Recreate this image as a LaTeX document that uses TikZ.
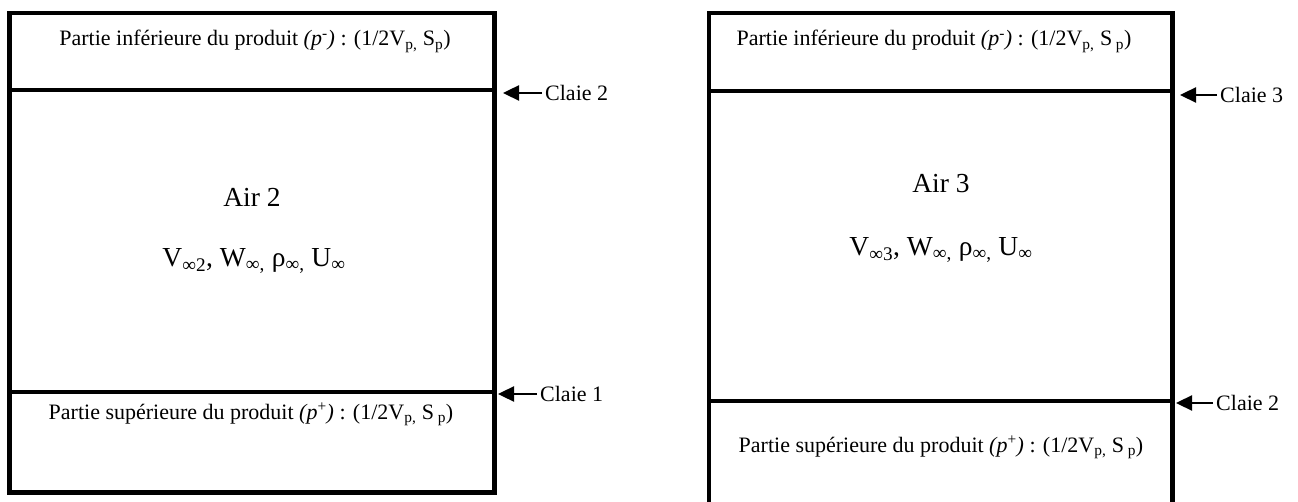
\documentclass[tikz,border=0pt]{standalone}
\usepackage{fontspec}
\setmainfont{Liberation Serif}
\usepackage{tikz}
\usetikzlibrary{arrows.meta, positioning, calc}

\begin{document}
\begin{tikzpicture}[
  x=1pt, y=-1pt,
  wall/.style={line width=4.6pt, line cap=rect},
  claie/.style={line width=4pt},
  part/.style={font=\fontsize{22}{26}\selectfont, anchor=base, inner sep=0pt},
  air/.style={font=\fontsize{27.5}{32}\selectfont, anchor=base, inner sep=0pt},
  tag/.style={font=\fontsize{22}{26}\selectfont, anchor=west, inner sep=3pt},
  flow/.style={-{Triangle[length=16pt, width=15pt]}, line width=2.4pt},
]
  \useasboundingbox (0,0) rectangle (1298,502);

  % left column
  \draw[wall] (9.7,13) rectangle (494.5,492.5);
  \draw[claie] (9.7,90) -- (494.5,90);
  \draw[claie] (9.7,392) -- (494.5,392);

  \node[part] (lh) at (255,46) {Partie inférieure du produit \textit{(p}\textsuperscript{-}\textit{)} : (1/2V\textsubscript{p,} S\textsubscript{p})};
  \node[air] (air2) at (252,207) {Air 2};
  \node[air] (var2) at (254,267) {V\textsubscript{∞2}, W\textsubscript{∞,} ρ\textsubscript{∞,} U\textsubscript{∞}};
  \node[part] (lb) at (251,419) {Partie supérieure du produit \textit{(p}\textsuperscript{+}\textit{)} : (1/2V\textsubscript{p,} S\,\textsubscript{p})};

  \coordinate (t2) at (503,93);
  \node[tag] (c2) at (542,93) {Claie 2};
  \draw[flow] (c2.west) -- (t2);
  \coordinate (t1) at (498,394);
  \node[tag] (c1) at (537,394) {Claie 1};
  \draw[flow] (c1.west) -- (t1);

  % right column
  \draw[wall] (709,520) -- (709,13) -- (1172.5,13) -- (1172.5,520);
  \draw[claie] (709,91) -- (1172.5,91);
  \draw[claie] (709,401) -- (1172.5,401);

  \node[part] (rh) at (934,46) {Partie inférieure du produit \textit{(p}\textsuperscript{-}\textit{)} : (1/2V\textsubscript{p,} S\,\textsubscript{p})};
  \node[air] (air3) at (941,193) {Air 3};
  \node[air] (var3) at (941,256) {V\textsubscript{∞3}, W\textsubscript{∞,} ρ\textsubscript{∞,} U\textsubscript{∞}};
  \node[part] (rb) at (941,452) {Partie supérieure du produit \textit{(p}\textsuperscript{+}\textit{)} : (1/2V\textsubscript{p,} S\,\textsubscript{p})};

  \coordinate (t3) at (1180,95);
  \node[tag] (c3) at (1217,95) {Claie 3};
  \draw[flow] (c3.west) -- (t3);
  \coordinate (t2r) at (1176,403);
  \node[tag] (c2r) at (1213,403) {Claie 2};
  \draw[flow] (c2r.west) -- (t2r);
\end{tikzpicture}
\end{document}
